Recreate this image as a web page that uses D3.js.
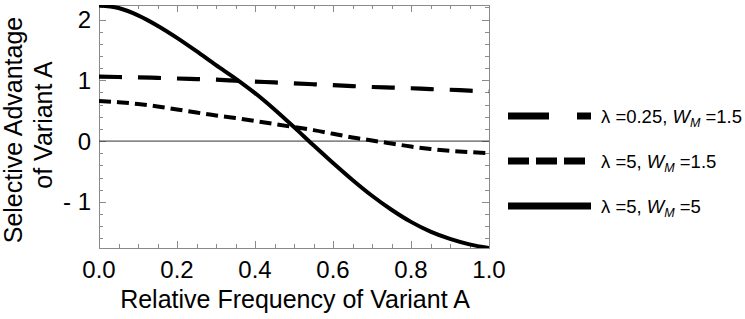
<!DOCTYPE html>
<html>
<head>
<meta charset="utf-8">
<script src="https://cdn.jsdelivr.net/npm/d3@7"></script>
<style>
  body { margin: 0; background: #fff; }
  svg { display: block; font-family: "Liberation Sans", Arial, sans-serif; }
</style>
</head>
<body>
<div id="chart"></div>
<script>
// values
var freq = [0, 0.05, 0.1, 0.15, 0.2, 0.25, 0.3, 0.35, 0.4, 0.45, 0.5,
            0.55, 0.6, 0.65, 0.7, 0.75, 0.8, 0.85, 0.9, 0.95, 1.0];
var advLong  = [1.06, 1.055, 1.05, 1.04, 1.03, 1.02, 1.01, 0.995, 0.98, 0.965, 0.95,
                0.935, 0.92, 0.905, 0.89, 0.88, 0.87, 0.855, 0.845, 0.83, 0.82];
var advShort = [0.66, 0.64, 0.61, 0.57, 0.52, 0.47, 0.42, 0.38, 0.33, 0.28, 0.23,
                0.18, 0.12, 0.06, 0.01, -0.04, -0.09, -0.13, -0.16, -0.18, -0.20];
var advSolid = [2.23, 2.19, 2.07, 1.90, 1.70, 1.48, 1.25, 1.03, 0.79, 0.52, 0.23,
                -0.07, -0.36, -0.64, -0.90, -1.13, -1.33, -1.49, -1.61, -1.70, -1.76];
var lambdas = ["0.25", "5", "5"];
var wms = ["1.5", "1.5", "5"];
var xTicks = [0, 0.2, 0.4, 0.6, 0.8, 1.0];
var yTicks = [-1, 0, 1, 2];

var width = 745, height = 319;
var pLeft = 99, pRight = 489, pTop = 5, pBottom = 248;

var svg = d3.select("#chart").append("svg")
    .attr("width", width)
    .attr("height", height);

var x = d3.scaleLinear().domain([0, 1]).range([pLeft, pRight]);
var y = d3.scaleLinear().domain([-1.76, 2.24]).range([pBottom, pTop]);

svg.append("clipPath").attr("id", "clip")
  .append("rect")
    .attr("x", pLeft).attr("y", pTop)
    .attr("width", pRight - pLeft).attr("height", pBottom - pTop);

// frame ticks (inward, mirrored on all sides)
var tickCol = "#8a8a8a";
var xMinor = d3.range(0, 1.0001, 0.05);
var yMinor = d3.range(-1.6, 2.2001, 0.2);
var ticks = svg.append("g").attr("stroke", tickCol).attr("stroke-width", 1);

xMinor.forEach(function(v) {
  var major = xTicks.some(function(t) { return Math.abs(t - v) < 1e-6; });
  var len = major ? 7 : 4;
  var px = Math.round(x(v)) + 0.5;
  ticks.append("line").attr("x1", px).attr("x2", px).attr("y1", pBottom).attr("y2", pBottom - len);
  ticks.append("line").attr("x1", px).attr("x2", px).attr("y1", pTop).attr("y2", pTop + len);
});
yMinor.forEach(function(v) {
  var major = yTicks.some(function(t) { return Math.abs(t - v) < 1e-6; });
  var len = major ? 7 : 4;
  var py = Math.round(y(v)) + 0.5;
  ticks.append("line").attr("y1", py).attr("y2", py).attr("x1", pLeft).attr("x2", pLeft + len);
  ticks.append("line").attr("y1", py).attr("y2", py).attr("x1", pRight).attr("x2", pRight - len);
});

svg.append("rect")
    .attr("x", pLeft + 0.5).attr("y", pTop + 0.5)
    .attr("width", pRight - pLeft).attr("height", pBottom - pTop)
    .attr("fill", "none")
    .attr("stroke", tickCol)
    .attr("stroke-width", 1);

// zero line
svg.append("line")
    .attr("x1", pLeft).attr("x2", pRight)
    .attr("y1", y(0)).attr("y2", y(0))
    .attr("stroke", "#333")
    .attr("stroke-width", 1);

// tick labels
svg.append("g").selectAll("text")
    .data(xTicks)
    .enter().append("text")
    .attr("x", function(d) { return x(d); })
    .attr("y", 278)
    .attr("text-anchor", "middle")
    .attr("font-size", 24)
    .text(function(d) { return d.toFixed(1); });

svg.append("g").selectAll("text")
    .data(yTicks)
    .enter().append("text")
    .attr("x", 91)
    .attr("y", function(d) { return y(d) + 8.5; })
    .attr("text-anchor", "end")
    .attr("font-size", 24)
    .text(function(d) { return d < 0 ? "- " + Math.abs(d) : d; });

// axis titles
svg.append("text")
    .attr("x", 295)
    .attr("y", 308)
    .attr("text-anchor", "middle")
    .attr("font-size", 25)
    .text("Relative Frequency of Variant A");

svg.append("text")
    .attr("transform", "translate(22,130) rotate(-90)")
    .attr("text-anchor", "middle")
    .attr("font-size", 25)
    .text("Selective Advantage");
svg.append("text")
    .attr("transform", "translate(52,125) rotate(-90)")
    .attr("text-anchor", "middle")
    .attr("font-size", 25)
    .text("of Variant A");

// curves
var line = d3.line()
    .x(function(d) { return x(d[0]); })
    .y(function(d) { return y(d[1]); })
    .curve(d3.curveMonotoneX);

var series = [
  { vals: advLong,  dash: "23,16", w: 4.2, legendDash: "41,28", legendW: 7 },
  { vals: advShort, dash: "12,6",  w: 4,   legendDash: "21,7",  legendW: 7 },
  { vals: advSolid, dash: null,    w: 4,   legendDash: null,    legendW: 7 }
];

var plot = svg.append("g").attr("clip-path", "url(#clip)");
series.forEach(function(s) {
  plot.append("path")
      .datum(freq.map(function(f, i) { return [f, s.vals[i]]; }))
      .attr("d", line)
      .attr("fill", "none")
      .attr("stroke", "#000")
      .attr("stroke-width", s.w)
      .attr("stroke-dasharray", s.dash);
});

// legend
var legendX = 508, legendLen = 83, legendY = 116, legendStep = 45;
var legend = svg.append("g").selectAll("g")
    .data(series)
    .enter().append("g")
    .attr("transform", function(d, i) { return "translate(" + legendX + "," + (legendY + i * legendStep) + ")"; });

legend.append("line")
    .attr("x1", 0).attr("x2", legendLen)
    .attr("y1", 0).attr("y2", 0)
    .attr("stroke", "#000")
    .attr("stroke-width", function(d) { return d.legendW; })
    .attr("stroke-dasharray", function(d) { return d.legendDash; });

var lt = legend.append("text")
    .attr("x", 93)
    .attr("y", 7)
    .attr("font-size", 18.5);
lt.append("tspan").text(function(d, i) { return "λ =" + lambdas[i] + ", "; });
lt.append("tspan").attr("font-style", "italic").text("W");
lt.append("tspan").attr("font-style", "italic").attr("font-size", 12.5).attr("dy", 4).text("M");
lt.append("tspan").attr("dy", -4).text(function(d, i) { return " =" + wms[i]; });
</script>
</body>
</html>
